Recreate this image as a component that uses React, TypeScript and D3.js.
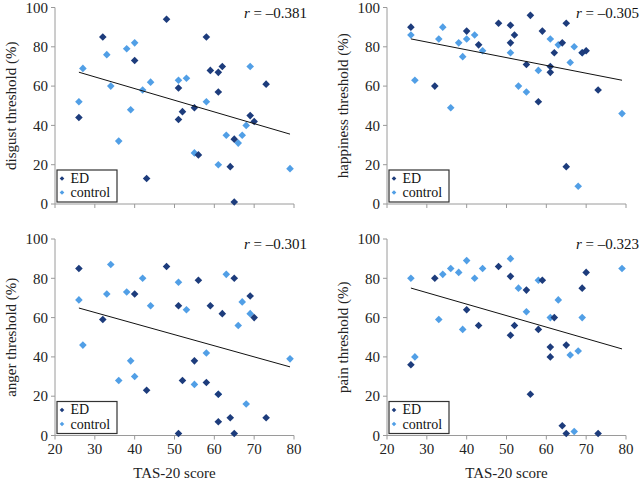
import * as React from 'react';
import * as d3 from 'd3';

// TAS-20 scores (same subjects in every panel)
const edTas = [26, 32, 40, 43, 48, 51, 51, 52, 55, 56, 58, 59, 61, 61, 62, 64, 65, 65, 69, 70, 73];
const ctrlTas = [26, 27, 33, 34, 36, 38, 39, 40, 42, 44, 51, 53, 55, 58, 61, 63, 66, 67, 68, 69, 79];

const disgustEd = [44, 85, 73, 13, 94, 59, 43, 47, 49, 25, 85, 68, 67, 57, 70, 19, 33, 1, 45, 42, 61];
const disgustCtrl = [52, 69, 76, 60, 32, 79, 48, 82, 58, 62, 63, 64, 26, 52, 20, 35, 31, 35, 40, 70, 18];

const happyEd = [90, 60, 88, 81, 92, 91, 82, 86, 71, 96, 52, 88, 70, 67, 77, 82, 92, 19, 77, 78, 58];
const happyCtrl = [86, 63, 84, 90, 49, 82, 75, 84, 86, 78, 77, 60, 57, 68, 84, 81, 72, 80, 9, 77, 46];

const angerEd = [85, 59, 72, 23, 86, 66, 1, 28, 38, 79, 27, 66, 21, 7, 62, 9, 80, 1, 71, 60, 9];
const angerCtrl = [69, 46, 72, 87, 28, 73, 38, 30, 80, 66, 78, 64, 26, 42, 21, 82, 56, 68, 16, 62, 39];

const painEd = [36, 80, 64, 56, 86, 81, 51, 56, 74, 21, 54, 79, 40, 45, 60, 5, 46, 1, 75, 83, 1];
const painCtrl = [80, 40, 59, 82, 85, 83, 54, 89, 80, 85, 90, 75, 63, 79, 60, 69, 41, 2, 43, 60, 85];

const yTitles = ['disgust threshold (%)', 'happiness threshold (%)', 'anger threshold (%)', 'pain threshold (%)'];
const rValues = ['–0.381', '–0.305', '–0.301', '–0.323'];
const xTicks = [20, 30, 40, 50, 60, 70, 80];
const yTicks = [0, 20, 40, 60, 80, 100];

const ED_COLOR = '#1d3c7c';
const CTRL_COLOR = '#519fe6';
const AXIS_COLOR = '#9a9a9a';
const FONT = '"Liberation Serif", "Times New Roman", serif';

const panels = [
  { title: yTitles[0], ed: disgustEd, ctrl: disgustCtrl, r: rValues[0], left: 55, top: 7.5, xLabels: false },
  { title: yTitles[1], ed: happyEd, ctrl: happyCtrl, r: rValues[1], left: 387, top: 7.5, xLabels: false },
  { title: yTitles[2], ed: angerEd, ctrl: angerCtrl, r: rValues[2], left: 55, top: 239, xLabels: true },
  { title: yTitles[3], ed: painEd, ctrl: painCtrl, r: rValues[3], left: 387, top: 239, xLabels: true },
];

const W = 239;
const H = 196.5;

function diamond(x: number, y: number, s: number) {
  return `M${x},${y - s}L${x + s},${y}L${x},${y + s}L${x - s},${y}Z`;
}

function fit(xs: number[], ys: number[]) {
  const mx = d3.mean(xs)!;
  const my = d3.mean(ys)!;
  let sxy = 0;
  let sxx = 0;
  xs.forEach((x, i) => {
    sxy += (x - mx) * (ys[i] - my);
    sxx += (x - mx) * (x - mx);
  });
  const slope = sxy / sxx;
  return { slope, icept: my - slope * mx };
}

function Panel({ p }: { p: typeof panels[0] }) {
  const x = d3.scaleLinear().domain([20, 80]).range([0, W]);
  const y = d3.scaleLinear().domain([0, 100]).range([H, 0]);
  const allX = edTas.concat(ctrlTas);
  const allY = p.ed.concat(p.ctrl);
  const { slope, icept } = fit(allX, allY);
  const [x0, x1] = d3.extent(allX) as [number, number];
  const line = d3.line<number>().x(d => x(d)).y(d => y(icept + slope * d));

  return (
    <g transform={`translate(${p.left},${p.top})`} fontFamily={FONT}>
      {/* axes */}
      <line x1={0} x2={0} y1={0} y2={H} stroke={AXIS_COLOR} />
      <line x1={0} x2={W} y1={H} y2={H} stroke={AXIS_COLOR} />
      {yTicks.map(t => (
        <g key={'y' + t}>
          <line x1={-4} x2={0} y1={y(t)} y2={y(t)} stroke={AXIS_COLOR} />
          <text x={-7} y={y(t)} dy="0.35em" textAnchor="end" fontSize={15} fill="#222">{t}</text>
        </g>
      ))}
      {xTicks.map(t => (
        <g key={'x' + t}>
          <line x1={x(t)} x2={x(t)} y1={H} y2={H + 4} stroke={AXIS_COLOR} />
          {p.xLabels && (
            <text x={x(t)} y={H + 18} textAnchor="middle" fontSize={15} fill="#222">{t}</text>
          )}
        </g>
      ))}
      {p.xLabels && (
        <text x={W / 2} y={H + 42} textAnchor="middle" fontSize={15} fill="#222">TAS-20 score</text>
      )}
      <text transform={`translate(-44,${H / 2}) rotate(-90)`} textAnchor="middle" dy="0.35em" fontSize={15} fill="#222">
        {p.title}
      </text>

      {/* points */}
      {p.ctrl.map((v, i) => (
        <path key={'c' + i} d={diamond(x(ctrlTas[i]), y(v), 3.8)} fill={CTRL_COLOR} />
      ))}
      {p.ed.map((v, i) => (
        <path key={'e' + i} d={diamond(x(edTas[i]), y(v), 3.8)} fill={ED_COLOR} />
      ))}

      {/* trend line */}
      <path d={line([x0, x1])!} stroke="#111" strokeWidth={1} fill="none" />

      {/* r label */}
      <text x={W + 13} y={10} textAnchor="end" fontSize={15} fill="#111">
        <tspan fontStyle="italic">r</tspan> = {p.r}
      </text>

      {/* legend */}
      <g transform={`translate(2,${H - 34})`}>
        <rect x={0} y={0} width={60} height={32} fill="#fff" stroke="#333" strokeWidth={1.2} />
        <path d={diamond(5, 8.5, 2.3)} fill={ED_COLOR} />
        <text x={13.5} y={12.5} fontSize={14} fill="#111">ED</text>
        <path d={diamond(5, 22.5, 2.3)} fill={CTRL_COLOR} />
        <text x={13.5} y={27} fontSize={14} fill="#111">control</text>
      </g>
    </g>
  );
}

export default function App() {
  return (
    <svg width={640} height={479} style={{ position: 'absolute', left: 0, top: 0 }}>
      <rect width={640} height={479} fill="#fff" />
      {panels.map((p, i) => <Panel key={i} p={p} />)}
    </svg>
  );
}
